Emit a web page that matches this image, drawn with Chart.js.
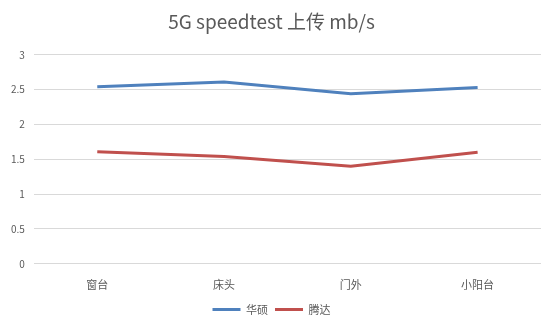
<!DOCTYPE html>
<html>
<head>
<meta charset="utf-8">
<script src="https://cdn.jsdelivr.net/npm/chart.js@4/dist/chart.umd.min.js"></script>
<style>
  html, body { margin: 0; padding: 0; background: #fff; }
  #wrap { width: 555px; height: 325px; }
</style>
</head>
<body>
<div id="wrap"><canvas id="myChart" width="555" height="325"></canvas></div>
<script>
// data
const categories = ["窗台", "床头", "门外", "小阳台"];
const huashuo = [2.54, 2.61, 2.44, 2.53];
const tengda = [1.61, 1.54, 1.40, 1.60];
const yTicks = [0, 0.5, 1, 1.5, 2, 2.5, 3];

const fontFamily = "'Noto Sans CJK SC', 'Noto Sans', sans-serif";

let ctx = document.getElementById("myChart").getContext("2d");
let myChart = new Chart(ctx, {
    type: "line",
    data: {
        labels: categories,
        datasets: [
            {
                label: "华硕",
                data: huashuo,
                borderColor: "#4F81BD",
                backgroundColor: "#4F81BD",
                borderWidth: 3,
                pointRadius: 0,
                tension: 0
            },
            {
                label: "腾达",
                data: tengda,
                borderColor: "#C0504D",
                backgroundColor: "#C0504D",
                borderWidth: 3,
                pointRadius: 0,
                tension: 0
            }
        ]
    },
    options: {
        responsive: false,
        animation: false,
        layout: { padding: { left: 2, right: 14, top: 6, bottom: 0 } },
        plugins: {
            title: {
                display: true,
                text: "5G speedtest 上传 mb/s",
                color: "#595959",
                font: { family: fontFamily, size: 19, weight: "normal" },
                padding: { top: 4, bottom: 22 }
            },
            legend: {
                position: "bottom",
                labels: {
                    usePointStyle: true,
                    pointStyle: "line",
                    pointStyleWidth: 28,
                    color: "#595959",
                    font: { family: fontFamily, size: 11 },
                    padding: 7
                }
            },
            tooltip: { enabled: false }
        },
        scales: {
            x: {
                offset: true,
                grid: { display: false },
                border: { display: false },
                ticks: {
                    color: "#595959",
                    font: { family: fontFamily, size: 11 },
                    padding: 6
                }
            },
            y: {
                min: 0,
                max: 3,
                afterBuildTicks: (axis) => {
                    axis.ticks = yTicks.map(v => ({ value: v }));
                },
                grid: { color: "#d9d9d9", drawTicks: false },
                border: { display: false },
                ticks: {
                    color: "#595959",
                    font: { family: fontFamily, size: 10 },
                    padding: 9,
                    callback: (v) => String(v)
                }
            }
        }
    }
});
</script>
</body>
</html>
